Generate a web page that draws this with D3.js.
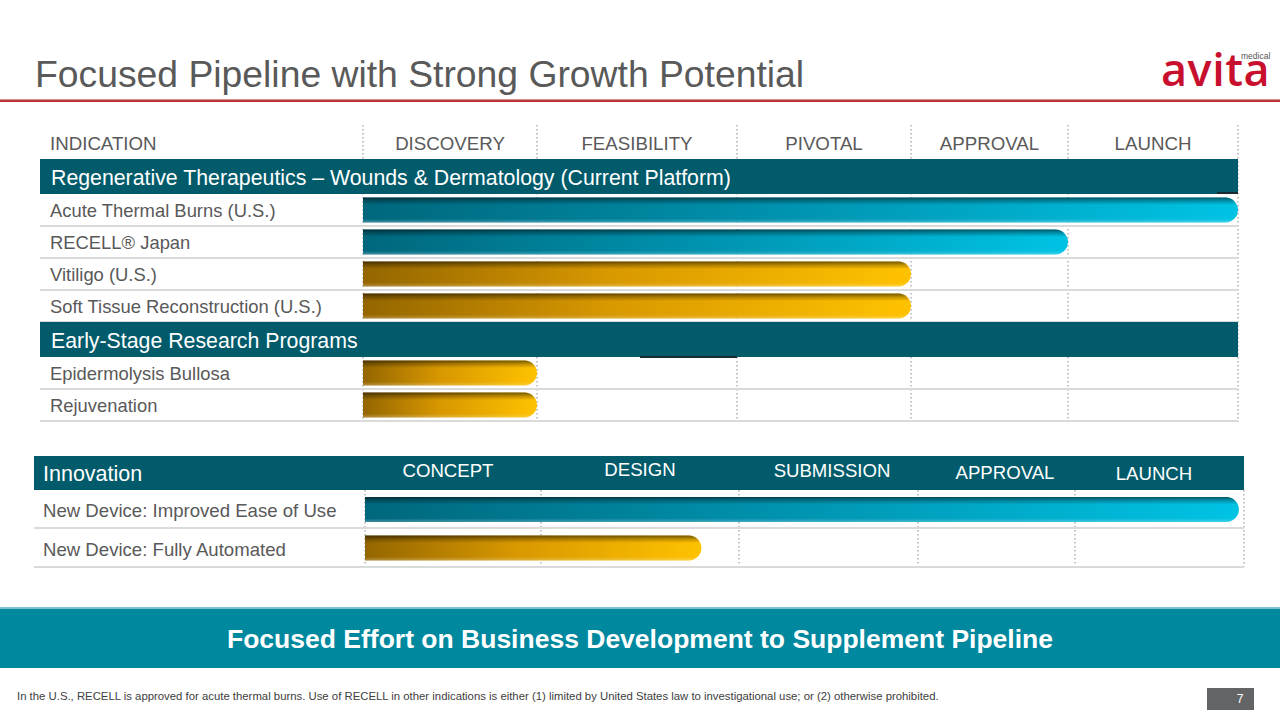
<!DOCTYPE html>
<html><head><meta charset="utf-8">
<script src="https://cdn.jsdelivr.net/npm/d3@7"></script>
<style>
html,body{margin:0;padding:0;background:#fff;}
svg{display:block;font-family:"Liberation Sans",Arial,sans-serif;}
</style></head>
<body>
<svg id="c" width="1280" height="720"></svg>
<script>
// ---------- data ----------
const title = "Focused Pipeline with Strong Growth Potential";
const topStages = ["DISCOVERY","FEASIBILITY","PIVOTAL","APPROVAL","LAUNCH"];
const section1 = "Regenerative Therapeutics \u2013 Wounds & Dermatology (Current Platform)";
const section1Rows = ["Acute Thermal Burns (U.S.)","RECELL\u00AE Japan","Vitiligo (U.S.)","Soft Tissue Reconstruction (U.S.)"];
const section1Values = [5, 4, 3, 3];
const section1Types = ["blue","blue","gold","gold"];
const section2 = "Early-Stage Research Programs";
const section2Rows = ["Epidermolysis Bullosa","Rejuvenation"];
const section2Values = [1, 1];
const section2Types = ["gold","gold"];
const innovStages = ["CONCEPT","DESIGN","SUBMISSION","APPROVAL","LAUNCH"];
const innovRows = ["New Device: Improved Ease of Use","New Device: Fully Automated"];
const innovValues = [4.97, 1.81];
const innovTypes = ["blue","gold"];
const banner = "Focused Effort on Business Development to Supplement Pipeline";
const footnote = "In the U.S., RECELL is approved for acute thermal burns. Use of RECELL in other indications is either (1) limited by United States law to investigational use; or (2) otherwise prohibited.";
const pageNum = "7";

// ---------- setup ----------
const svg = d3.select("#c");
const defs = svg.append("defs");
const TEAL = "#025B6B";
const GREY = "#595959";

function grad(id, stops, x1,y1,x2,y2){
  const g = defs.append("linearGradient").attr("id",id)
    .attr("x1",x1).attr("y1",y1).attr("x2",x2).attr("y2",y2);
  stops.forEach(s=>g.append("stop").attr("offset",s[0]).attr("stop-color",s[1]).attr("stop-opacity",s[2]===undefined?1:s[2]));
}
grad("g-blue",[[0,"#00677C"],[0.45,"#0090AC"],[1,"#00C3E4"]],0,0,1,0);
grad("g-gold",[[0,"#946600"],[0.45,"#D89800"],[1,"#FFC200"]],0,0,1,0);
grad("g-shade",[[0,"#000",0.55],[0.14,"#000",0.25],[0.3,"#000",0],[0.85,"#fff",0],[1,"#fff",0.25]],0,0,0,1);
grad("g-redline",[[0,"#A52227"],[0.5,"#C4403F"],[1,"#B3262B"]],0,0,0,1);

function barPath(x0,x1,y,h){
  const r = h/2;
  const xe = Math.max(x0+r, x1);
  return `M${x0},${y}H${xe-r}A${r},${r} 0 0 1 ${xe-r},${y+h}H${x0}Z`;
}
function drawBar(g, x0, x1, y, h, type){
  const d = barPath(x0,x1,y,h);
  g.append("path").attr("d",d).attr("fill",`url(#g-${type})`);
  g.append("path").attr("d",d).attr("fill","url(#g-shade)");
}

// ---------- title ----------
svg.append("text").attr("x",35).attr("y",87).attr("font-size",37.3)
  .attr("fill",GREY).text(title);
svg.append("rect").attr("x",0).attr("y",99.5).attr("width",1280).attr("height",2.5).attr("fill","url(#g-redline)");

// logo
svg.append("text").attr("x",1161).attr("y",86).attr("font-size",45).attr("font-weight",600)
  .attr("font-family","'Open Sans','Liberation Sans',sans-serif").attr("letter-spacing",0.5)
  .attr("fill","#C8102E").text("avita");
svg.append("text").attr("x",1241).attr("y",59).attr("font-size",8.5)
  .attr("fill","#555").text("medical");

// ---------- top table ----------
const topBounds = [363,537,737,911,1068,1238];
const xTop = d3.scaleLinear().domain(d3.range(6)).range(topBounds);
const tableL = 40, tableR = 1238;
const rowH = 32, bandH = 35;

const topG = svg.append("g");
// dotted verticals
topG.selectAll("line.v").data(d3.range(6)).join("line")
  .attr("x1",d=>xTop(d)).attr("x2",d=>xTop(d)).attr("y1",125).attr("y2",422)
  .attr("stroke","#8a8a8a").attr("stroke-width",1).attr("stroke-dasharray","1.5,2.5");

// header
topG.append("text").attr("x",50).attr("y",150).attr("font-size",18.7).attr("fill",GREY).text("INDICATION");
topG.selectAll("text.st").data(topStages).join("text")
  .attr("x",(d,i)=>(xTop(i)+xTop(i+1))/2).attr("y",150).attr("text-anchor","middle")
  .attr("font-size",18.7).attr("fill",GREY).text(d=>d);

function section(y, label, rows, vals, types){
  topG.append("rect").attr("x",tableL).attr("y",y).attr("width",tableR-tableL).attr("height",bandH).attr("fill",TEAL);
  topG.append("text").attr("x",51).attr("y",y+bandH/2+8).attr("font-size",21.3).attr("fill","#fff").text(label);
  let yy = y+bandH;
  rows.forEach((r,i)=>{
    topG.append("rect").attr("x",tableL).attr("y",yy+rowH-1).attr("width",tableR-tableL).attr("height",2).attr("fill","#DADADA");
    topG.append("text").attr("x",50).attr("y",yy+rowH/2+6.5).attr("font-size",18.4).attr("fill",GREY).text(r);
    drawBar(topG, xTop(0), xTop(vals[i]), yy+3.5, 25, types[i]);
    yy += rowH;
  });
  return yy;
}
let yEnd = section(159, section1, section1Rows, section1Values, section1Types);
section(yEnd, section2, section2Rows, section2Values, section2Types);
// small dark edge artifacts on bands
topG.append("rect").attr("x",1217).attr("y",192).attr("width",21).attr("height",2).attr("fill","#1a2a30");
topG.append("rect").attr("x",640).attr("y",356).attr("width",97).attr("height",2).attr("fill","#1a2a30");

// ---------- innovation table ----------
const botBounds = [365,541,739,918,1075,1244];
const xBot = d3.scaleLinear().domain(d3.range(6)).range(botBounds);
const bot = svg.append("g");
const bL = 34, bR = 1244, bY = 456;
bot.selectAll("line.v").data(d3.range(6)).join("line")
  .attr("x1",d=>xBot(d)).attr("x2",d=>xBot(d)).attr("y1",490).attr("y2",567)
  .attr("stroke","#8a8a8a").attr("stroke-width",1).attr("stroke-dasharray","1.5,2.5");
bot.append("rect").attr("x",bL).attr("y",bY).attr("width",bR-bL).attr("height",34).attr("fill",TEAL);
bot.append("text").attr("x",43).attr("y",480.5).attr("font-size",21.5).attr("fill","#fff").text("Innovation");
const innovDy = [0,-1,0,2,3];
const innovCx = [448,640,832,1005,1154];
bot.selectAll("text.st").data(innovStages).join("text")
  .attr("x",(d,i)=>innovCx[i]).attr("y",(d,i)=>476.5+innovDy[i]).attr("text-anchor","middle")
  .attr("font-size",18.6).attr("fill","#fff").text(d=>d);
const innovRowTops = [490,528];
const innovRowH = [38,39];
innovRows.forEach((r,i)=>{
  const y0 = innovRowTops[i], h = innovRowH[i];
  bot.append("rect").attr("x",bL).attr("y",y0+h-1).attr("width",bR-bL).attr("height",2).attr("fill","#DADADA");
  bot.append("text").attr("x",43).attr("y",y0+h/2+8).attr("font-size",18.6).attr("fill",GREY).text(r);
  drawBar(bot, xBot(0), xBot(innovValues[i]), y0+h/2-12, 25, innovTypes[i]);
});

// ---------- banner ----------
svg.append("rect").attr("x",0).attr("y",607).attr("width",1280).attr("height",61).attr("fill","#00889F");
svg.append("rect").attr("x",0).attr("y",607).attr("width",1280).attr("height",2).attr("fill","#7CC3CF");
svg.append("text").attr("x",640).attr("y",648).attr("text-anchor","middle").attr("font-size",26.5)
  .attr("font-weight","bold").attr("fill","#fff").text(banner);

// ---------- footer ----------
svg.append("text").attr("x",17).attr("y",700).attr("font-size",11.35).attr("fill","#404040").text(footnote);
svg.append("rect").attr("x",1207).attr("y",688).attr("width",47).attr("height",22).attr("fill","#636466");
svg.append("text").attr("x",1240).attr("y",703).attr("text-anchor","middle").attr("font-size",12).attr("fill","#fff").text(pageNum);
</script>
</body></html>
